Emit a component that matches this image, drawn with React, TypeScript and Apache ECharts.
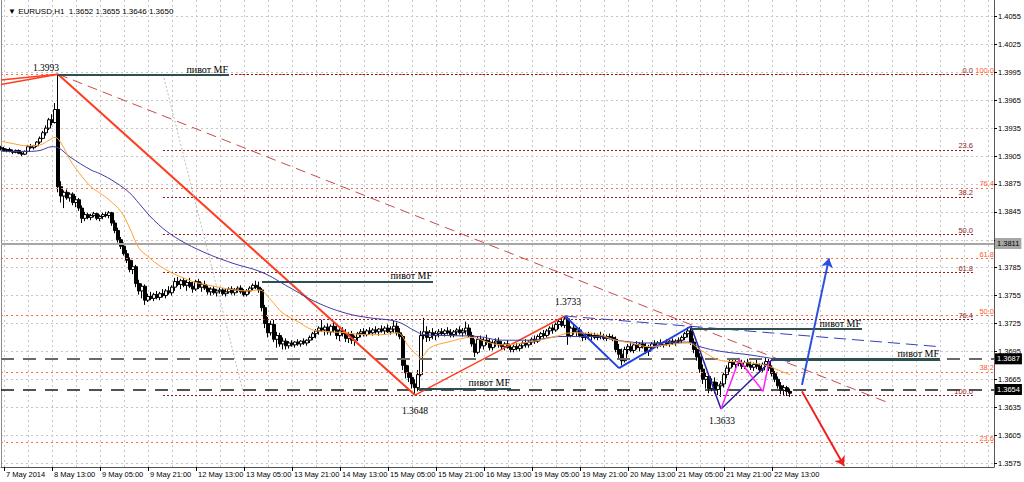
import React, { useEffect, useRef } from 'react';
import * as echarts from 'echarts';

const SYMBOL = 'EURUSD,H1';
const SANS = '"Liberation Sans", Arial, sans-serif';
const SERIF = '"Liberation Serif", "DejaVu Serif", serif';

// Hourly bars, first slot = 7 May 2014 20:00. [open, high, low, close] in pips: 3914 -> 1.3914
const bars: number[][] = [
  [3914,3916,3911,3913],[3913,3915,3910,3911],[3911,3913,3909,3912],[3912,3914,3909,3910],[3910,3912,3907,3909],
  [3909,3912,3908,3911],[3911,3912,3907,3908],[3908,3910,3905,3907],[3907,3911,3906,3910],[3910,3917,3909,3915],
  [3915,3918,3913,3914],[3914,3917,3912,3916],[3916,3921,3915,3920],[3920,3926,3918,3924],[3924,3932,3923,3930],
  [3930,3938,3927,3935],[3935,3946,3933,3944],[3944,3950,3938,3941],[3941,3962,3940,3955],[3955,3993,3866,3872],
  [3872,3878,3855,3862],[3862,3868,3849,3866],[3866,3869,3858,3860],[3860,3866,3856,3864],[3864,3866,3852,3855],
  [3855,3862,3850,3858],[3858,3860,3846,3849],[3849,3852,3833,3838],[3838,3845,3835,3842],[3842,3844,3837,3839],
  [3839,3843,3836,3841],[3841,3845,3839,3843],[3843,3844,3836,3838],[3838,3842,3835,3840],[3840,3844,3837,3842],
  [3842,3845,3839,3841],[3841,3846,3838,3844],[3844,3845,3830,3833],[3833,3836,3822,3825],[3825,3828,3812,3815],
  [3815,3818,3805,3808],[3808,3812,3798,3800],[3800,3804,3790,3793],[3793,3796,3780,3783],[3783,3793,3778,3786],
  [3786,3788,3764,3768],[3768,3772,3756,3760],[3760,3768,3752,3765],[3765,3767,3745,3750],[3750,3757,3748,3754],
  [3754,3759,3750,3752],[3752,3758,3749,3756],[3756,3760,3751,3753],[3753,3759,3750,3757],[3757,3762,3753,3755],
  [3755,3762,3752,3760],[3760,3765,3756,3758],[3758,3766,3755,3764],[3764,3774,3760,3770],[3770,3775,3765,3767],
  [3767,3773,3762,3771],[3771,3774,3764,3766],[3766,3772,3760,3769],[3769,3774,3763,3765],[3765,3770,3758,3762],
  [3762,3772,3760,3770],[3770,3773,3762,3764],[3764,3769,3759,3767],[3767,3771,3761,3763],[3763,3766,3756,3759],
  [3759,3764,3755,3762],[3762,3765,3756,3758],[3758,3762,3754,3760],[3760,3764,3757,3761],[3761,3763,3755,3757],
  [3757,3762,3754,3759],[3759,3764,3757,3762],[3762,3765,3756,3758],[3758,3763,3755,3761],[3761,3765,3758,3763],
  [3763,3766,3757,3759],[3759,3762,3754,3756],[3756,3762,3754,3760],[3760,3765,3757,3763],[3763,3768,3760,3766],
  [3766,3771,3762,3764],[3764,3770,3758,3761],[3761,3763,3738,3742],[3742,3745,3720,3725],[3725,3732,3710,3715],
  [3715,3728,3712,3724],[3724,3729,3705,3708],[3708,3716,3699,3712],[3712,3715,3700,3703],[3703,3710,3697,3706],
  [3706,3709,3697,3701],[3701,3706,3698,3704],[3704,3707,3700,3702],[3702,3706,3699,3705],[3705,3708,3701,3703],
  [3703,3707,3700,3706],[3706,3709,3702,3704],[3704,3708,3701,3707],[3707,3712,3704,3710],[3710,3716,3707,3714],
  [3714,3719,3709,3717],[3717,3722,3713,3720],[3720,3729,3716,3718],[3718,3723,3712,3721],[3721,3725,3713,3716],
  [3716,3724,3712,3722],[3722,3727,3715,3718],[3718,3723,3708,3712],[3712,3720,3706,3717],[3717,3721,3711,3714],
  [3714,3719,3705,3709],[3709,3716,3704,3713],[3713,3717,3703,3707],[3707,3712,3701,3710],[3710,3716,3706,3714],
  [3714,3719,3710,3716],[3716,3720,3711,3713],[3713,3719,3711,3717],[3717,3721,3713,3715],[3715,3720,3712,3718],
  [3718,3722,3714,3716],[3716,3720,3712,3719],[3719,3723,3715,3717],[3717,3722,3713,3720],[3720,3724,3715,3716],
  [3716,3722,3713,3719],[3719,3728,3715,3722],[3722,3726,3712,3715],[3715,3720,3708,3711],[3711,3713,3675,3680],
  [3680,3686,3666,3672],[3672,3680,3662,3667],[3667,3672,3655,3660],[3660,3665,3648,3656],[3656,3675,3652,3670],
  [3670,3717,3668,3712],[3712,3731,3708,3716],[3716,3722,3705,3710],[3710,3718,3706,3715],[3715,3720,3708,3712],
  [3712,3717,3707,3714],[3714,3719,3710,3716],[3716,3720,3712,3714],[3714,3719,3711,3717],[3717,3721,3713,3715],
  [3715,3719,3710,3713],[3713,3718,3710,3716],[3716,3720,3712,3718],[3718,3722,3713,3715],[3715,3720,3711,3717],
  [3717,3727,3713,3720],[3720,3724,3710,3712],[3712,3716,3700,3703],[3703,3708,3689,3694],[3694,3711,3692,3708],
  [3708,3712,3698,3701],[3701,3710,3697,3707],[3707,3713,3702,3705],[3705,3709,3696,3699],[3699,3707,3696,3704],
  [3704,3709,3700,3706],[3706,3710,3699,3702],[3702,3706,3697,3700],[3700,3705,3696,3703],[3703,3707,3698,3699],
  [3699,3703,3694,3697],[3697,3702,3694,3700],[3700,3704,3696,3698],[3698,3703,3695,3701],[3701,3706,3698,3704],
  [3704,3708,3699,3702],[3702,3707,3699,3705],[3705,3710,3702,3708],[3708,3712,3703,3706],[3706,3713,3704,3711],
  [3711,3716,3707,3714],[3714,3718,3709,3712],[3712,3719,3710,3717],[3717,3722,3713,3720],[3720,3724,3714,3718],
  [3718,3726,3716,3724],[3724,3729,3719,3727],[3727,3731,3721,3723],[3723,3733,3720,3730],[3730,3732,3702,3712],
  [3712,3722,3710,3720],[3720,3724,3713,3716],[3716,3721,3711,3718],[3718,3721,3710,3712],[3712,3716,3706,3710],
  [3710,3715,3707,3713],[3713,3716,3708,3711],[3711,3715,3707,3712],[3712,3715,3708,3710],[3710,3714,3707,3712],
  [3712,3716,3708,3711],[3711,3714,3707,3709],[3709,3713,3706,3711],[3711,3714,3708,3710],[3710,3713,3706,3708],
  [3708,3711,3694,3697],[3697,3703,3688,3692],[3692,3698,3680,3685],[3685,3700,3683,3697],[3697,3703,3692,3700],
  [3700,3705,3694,3696],[3696,3704,3693,3702],[3702,3706,3697,3699],[3699,3705,3695,3703],[3703,3707,3698,3700],
  [3700,3704,3692,3695],[3695,3702,3690,3699],[3699,3705,3696,3703],[3703,3707,3699,3701],[3701,3706,3698,3704],
  [3704,3708,3700,3702],[3702,3706,3699,3705],[3705,3708,3701,3703],[3703,3707,3700,3706],[3706,3709,3702,3704],
  [3704,3708,3701,3706],[3706,3710,3703,3707],[3707,3712,3704,3710],[3710,3716,3707,3714],[3714,3721,3710,3717],
  [3717,3720,3702,3705],[3705,3709,3693,3697],[3697,3700,3685,3689],[3689,3693,3672,3676],[3676,3681,3660,3665],
  [3665,3672,3655,3668],[3668,3671,3650,3655],[3655,3666,3652,3662],[3662,3667,3650,3654],[3654,3662,3648,3658],
  [3658,3663,3646,3660],[3660,3672,3656,3670],[3670,3680,3666,3677],[3677,3686,3673,3683],[3683,3688,3678,3681],
  [3681,3687,3677,3684],[3684,3688,3679,3682],[3682,3686,3676,3679],[3679,3685,3676,3683],[3683,3687,3678,3680],
  [3680,3684,3675,3678],[3678,3683,3674,3681],[3681,3686,3676,3679],[3679,3682,3672,3675],[3675,3683,3673,3681],
  [3681,3688,3678,3684],[3684,3687,3674,3677],[3677,3680,3668,3671],[3671,3674,3662,3665],[3665,3668,3655,3658],
  [3658,3662,3649,3653],[3653,3659,3648,3656],[3656,3658,3647,3652],[3652,3655,3646,3650],
];

// time axis labels: every 16th slot starting at slot 1; grid every 8th slot
const timeLabels = ['7 May 2014', '8 May 13:00', '9 May 05:00', '9 May 21:00', '12 May 13:00', '13 May 05:00',
  '13 May 21:00', '14 May 13:00', '15 May 05:00', '15 May 21:00', '16 May 13:00', '19 May 05:00', '19 May 21:00',
  '20 May 13:00', '21 May 05:00', '21 May 21:00', '22 May 13:00'];
const SLOTS = 332;
const LABEL_FIRST = 1;
const LABEL_STEP = 16;
const GRID_STEP = 8;

const priceTicks = [1.3575, 1.3605, 1.3635, 1.3665, 1.3695, 1.3725, 1.3755, 1.3785, 1.3815, 1.3845, 1.3875,
  1.3905, 1.3935, 1.3965, 1.3995, 1.4025, 1.4055];
const priceLabels = [1.3575, 1.3605, 1.3635, 1.3665, 1.3695, 1.3725, 1.3755, 1.3785, 1.3845, 1.3875,
  1.3905, 1.3935, 1.3965, 1.3995, 1.4025, 1.4055];
const Y_MIN = 1.35707;
const Y_MAX = 1.407274;

// moving averages: [slot, price]
const maFast = [[0,1.3921],[3,1.3919],[9,1.3916],[13,1.3917],[16,1.3922],[18,1.3925],[20,1.3919],[23,1.3901],
  [26,1.3887],[30,1.3872],[33,1.3865],[36,1.3858],[40,1.3845],[43,1.3827],[46,1.3806],[49,1.3797],[52,1.3789],
  [56,1.3781],[60,1.3775],[65,1.3769],[71,1.3765],[76,1.3762],[82,1.3760],[86,1.3761],[90,1.3750],[94,1.3736],
  [99,1.3727],[104,1.3718],[110,1.3716],[115,1.3715],[121,1.3713],[127,1.3713],[132,1.3715],[136,1.3700],
  [139,1.3690],[140,1.3689],[143,1.3699],[149,1.3705],[157,1.3710],[162,1.3705],[167,1.3702],[176,1.3705],
  [185,1.3711],[190,1.3715],[199,1.3713],[205,1.3707],[210,1.3704],[216,1.3700],[222,1.3702],[229,1.3704],
  [233,1.3697],[239,1.3686],[244,1.3684],[251,1.3682],[255,1.3680],[259,1.3675],[263,1.3670]];
const maSlow = [[0,1.3910],[9,1.3910],[13,1.3911],[17,1.3915],[19,1.3914],[23,1.3904],[30,1.3890],[33,1.3886],
  [38,1.3877],[43,1.3865],[46,1.3854],[51,1.3836],[57,1.3820],[66,1.3804],[77,1.3790],[87,1.3780],[96,1.3764],
  [105,1.3748],[115,1.3736],[123,1.3731],[132,1.3727],[138,1.3717],[141,1.3713],[149,1.3712],[159,1.3711],
  [167,1.3707],[176,1.3707],[187,1.3711],[199,1.3711],[205,1.3707],[216,1.3704],[229,1.3705],[233,1.3700],
  [240,1.3695],[250,1.3691],[263,1.3684]];

// Fibonacci retracements
const fibA = { from: 54, to: 324, high: 1.3993, low: 1.3648, levels: [0, 23.6, 38.2, 50, 61.8, 76.4, 100] };
const fibB = { from: 0, to: 331, high: 1.3993, low: 1.3475, levels: [100, 76.4, 61.8, 50, 38.2, 23.6] };

// horizontal price lines with axis boxes
const hLines = [
  { price: 1.3811, color: '#a6a6a6', width: 2, dash: 'solid', box: '#a6a6a6', text: '#000' },
  { price: 1.3687, color: '#6a6a6a', width: 2, dash: [13, 9], box: '#000', text: '#fff' },
  { price: 1.3654, color: '#1a1a1a', width: 1.5, dash: [13, 9], box: '#000', text: '#fff' },
];

// trend lines: [slot, price] -> [slot, price]
const trendLines = [
  { a: [0, 1.39868], b: [19, 1.3993], color: '#ff3c1e', width: 1.5, dash: 'solid' },
  { a: [0, 1.39818], b: [19, 1.3993], color: '#ff3c1e', width: 1.5, dash: 'solid' },
  { a: [19, 1.3993], b: [138, 1.3648], color: '#ff3c1e', width: 2, dash: 'solid' },
  { a: [138, 1.3648], b: [188, 1.3733], color: '#ff3c1e', width: 1.5, dash: 'solid' },
  { a: [19, 1.3993], b: [296, 1.36395], color: '#c84c4c', width: 1, dash: [10, 6] },
  { a: [188, 1.3733], b: [313, 1.3700], color: '#3440c0', width: 1, dash: [12, 6] },
  { a: [54, 1.3993], b: [81, 1.3648], color: '#bdbdbd', width: 1, dash: [2, 2] },
  { a: [188, 1.3733], b: [206, 1.3677], color: '#1f3fe8', width: 2, dash: 'solid' },
  { a: [206, 1.3677], b: [230, 1.3722], color: '#1f3fe8', width: 2, dash: 'solid' },
  { a: [230, 1.3722], b: [240, 1.3633], color: '#22229a', width: 1.5, dash: 'solid' },
  { a: [240, 1.3633], b: [257, 1.3686], color: '#22229a', width: 1.5, dash: 'solid' },
  { a: [240, 1.3633], b: [246, 1.3686], color: '#ff1eff', width: 1.5, dash: 'solid' },
  { a: [246, 1.3686], b: [254, 1.3652], color: '#ff1eff', width: 1.5, dash: 'solid' },
  { a: [254, 1.3652], b: [256, 1.3684], color: '#ff1eff', width: 1.5, dash: 'solid' },
];
const arrows = [
  { a: [267, 1.3659], b: [276, 1.3795], color: '#2b50dc' },
  { a: [267, 1.3652], b: [281, 1.3572], color: '#f01e1e' },
];
const pivots = [
  { a: [19, 1.3992], b: [76, 1.3992], width: 2 },
  { a: [87, 1.3770], b: [144, 1.3770], width: 2 },
  { a: [139, 1.36546], b: [170, 1.36546], width: 2 },
  { a: [230, 1.3719], b: [287, 1.3719], width: 2 },
  { a: [257, 1.3686], b: [313, 1.3686], width: 3 },
];
const PIVOT_TEXT = 'пивот MF';
const swingPoints = [
  { slot: 19, price: 1.3993, offset: [-12, -6] },
  { slot: 188, price: 1.3733, offset: [3, -14] },
  { slot: 138, price: 1.3648, offset: [0, 16] },
  { slot: 240, price: 1.3633, offset: [1, 12] },
];

const pip = (v: number) => 1 + v / 10000;

function buildOption() {
  const slots = Array.from({ length: SLOTS }, (_, i) => String(i));
  const candleData = bars.map((b) => [pip(b[0]), pip(b[3]), pip(b[2]), pip(b[1])]);
  const last = bars[bars.length - 1].map((v) => pip(v).toFixed(4));
  const isLabelSlot = (i: number) =>
    i >= LABEL_FIRST && (i - LABEL_FIRST) % LABEL_STEP === 0 && (i - LABEL_FIRST) / LABEL_STEP < timeLabels.length;
  const isGridSlot = (i: number) => i >= LABEL_FIRST && (i - LABEL_FIRST) % GRID_STEP === 0;

  const fibLine = (fib: any, up: boolean, color: string, labelColor: string, dash: number[]) =>
    fib.levels.map((r: number) => {
      const price = up ? fib.low + (r / 100) * (fib.high - fib.low) : fib.high - (r / 100) * (fib.high - fib.low);
      return [
        {
          coord: [fib.from, price],
          lineStyle: { color, width: 1, type: dash },
          label: {
            show: true, formatter: r.toFixed(1), position: 'insideEndTop', distance: 0,
            color: labelColor, fontSize: 7.5, fontFamily: SANS,
          },
        },
        { coord: [fib.to, price] },
      ];
    });

  return {
    animation: false,
    backgroundColor: '#ffffff',
    title: {
      text: `▼ ${SYMBOL}  ${last[0]} ${last[1]} ${last[2]} ${last[3]}`,
      left: 3, top: 2,
      textStyle: { fontSize: 8, fontWeight: 'normal', color: '#000', fontFamily: SANS },
    },
    grid: { left: 1, right: 30, top: 0, bottom: 15, containLabel: false },
    xAxis: {
      type: 'category', data: slots, boundaryGap: false,
      axisLine: { show: true, lineStyle: { color: '#555', width: 1 } },
      axisTick: { show: true, interval: (i: number) => isLabelSlot(i), length: 4, lineStyle: { color: '#000' } },
      axisLabel: {
        interval: (i: number) => isLabelSlot(i),
        formatter: (_v: string, i: number) => (isLabelSlot(i) ? timeLabels[(i - LABEL_FIRST) / LABEL_STEP] : ''),
        align: 'left', padding: [0, 0, 0, 2], margin: 3, fontSize: 7.5, color: '#000', fontFamily: SANS,
      },
      splitLine: { show: true, interval: (i: number) => isGridSlot(i), lineStyle: { color: '#c6c6c6', type: [2, 3], width: 1 } },
    },
    yAxis: [
      {
        type: 'value', position: 'right', min: Y_MIN, max: Y_MAX,
        axisLine: { show: true, lineStyle: { color: '#555', width: 1 } },
        axisTick: { show: true, length: 3, customValues: priceTicks, lineStyle: { color: '#000' } },
        axisLabel: {
          customValues: priceLabels, formatter: (v: number) => v.toFixed(4), margin: 4,
          fontSize: 7.5, color: '#000', fontFamily: SANS,
        },
        splitLine: { show: true, lineStyle: { color: '#c6c6c6', type: [2, 3], width: 1 } },
      },
      {
        type: 'value', position: 'left', min: Y_MIN, max: Y_MAX,
        axisLine: { show: true, lineStyle: { color: '#8a8a8a', width: 1 } },
        axisTick: { show: false }, axisLabel: { show: false }, splitLine: { show: false },
      },
    ],
    series: [
      {
        type: 'line', data: [], silent: true,
        markLine: { silent: true, symbol: 'none', precision: 6, label: { show: false }, data: fibLine(fibB, true, '#ff6a3a', '#ff5a2a', [2, 3]) },
      },
      {
        type: 'line', data: [], silent: true,
        markLine: { silent: true, symbol: 'none', precision: 6, label: { show: false }, data: fibLine(fibA, false, '#8e1c1c', '#8e2626', [2, 2]) },
      },
      {
        type: 'line', data: [], silent: true, z: 3,
        markLine: {
          silent: true, symbol: 'none', precision: 6,
          data: hLines.map((h) => ({
            yAxis: h.price,
            lineStyle: { color: h.color, width: h.width, type: h.dash },
            label: {
              show: true, position: 'end', distance: 1, formatter: h.price.toFixed(4),
              backgroundColor: h.box, color: h.text, padding: [2, 2, 1, 2], fontSize: 7.5, fontFamily: SANS,
            },
          })),
        },
      },
      {
        type: 'candlestick', data: candleData, barWidth: 3, z: 4,
        itemStyle: { color: '#ffffff', color0: '#000000', borderColor: '#000000', borderColor0: '#000000', borderWidth: 1 },
      },
      {
        type: 'line', data: maSlow, showSymbol: false, smooth: 0.4, z: 5, silent: true,
        lineStyle: { color: '#3c3ca8', width: 1 },
      },
      {
        type: 'line', data: maFast, showSymbol: false, smooth: 0.4, z: 5, silent: true,
        lineStyle: { color: '#ffa033', width: 1 },
      },
      {
        type: 'line', data: [], silent: true, z: 6,
        markLine: {
          silent: true, symbol: 'none', precision: 6, label: { show: false },
          data: trendLines.map((t) => [
            { coord: t.a, lineStyle: { color: t.color, width: t.width, type: t.dash } },
            { coord: t.b },
          ]),
        },
      },
      {
        type: 'line', data: [], silent: true, z: 6,
        markLine: {
          silent: true, symbol: 'none', precision: 6,
          data: pivots.map((p) => [
            {
              coord: p.a, lineStyle: { color: '#2f4f4f', width: p.width, type: 'solid' },
              label: {
                show: true, formatter: PIVOT_TEXT, position: 'insideEndTop', distance: 1,
                color: '#000', fontSize: 10, fontFamily: SERIF,
              },
            },
            { coord: p.b },
          ]),
        },
      },
      {
        type: 'line', data: [], silent: true, z: 7,
        markLine: {
          silent: true, symbol: ['none', 'arrow'], symbolSize: 9, precision: 6, label: { show: false },
          data: arrows.map((a) => [
            { coord: a.a, lineStyle: { color: a.color, width: 2, type: 'solid' }, itemStyle: { color: a.color } },
            { coord: a.b, itemStyle: { color: a.color } },
          ]),
        },
      },
      {
        type: 'line', data: [], silent: true, z: 8,
        markPoint: {
          silent: true, symbol: 'circle', symbolSize: 0,
          data: swingPoints.map((s) => ({
            coord: [s.slot, s.price], name: s.price.toFixed(4),
            label: {
              show: true, position: 'inside', offset: s.offset, formatter: '{b}',
              color: '#000', fontSize: 9.5, fontFamily: SERIF,
            },
          })),
        },
      },
    ],
  };
}

export default function App() {
  const ref = useRef<HTMLDivElement>(null);
  useEffect(() => {
    if (!ref.current) return;
    const chart = echarts.init(ref.current, null, { renderer: 'svg' });
    chart.setOption(buildOption() as any);
    return () => chart.dispose();
  }, []);
  return (
    <div
      ref={ref}
      style={{ position: 'absolute', left: 0, top: 0, width: 1024, height: 482, background: '#fff' }}
    />
  );
}
